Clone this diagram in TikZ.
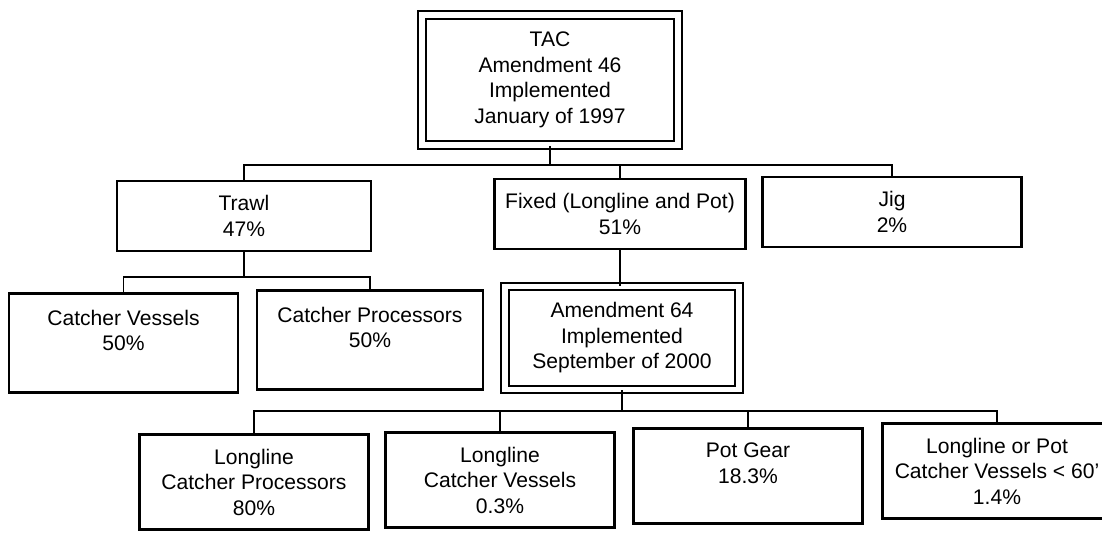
\documentclass[tikz,border=0pt]{standalone}
\usepackage{fontspec}
\setmainfont{Liberation Sans}
\usepackage{tikz}
\usetikzlibrary{positioning}

\tikzset{
  box/.style={draw, line width=1.2pt, align=center, inner sep=0pt,
    font=\fontsize{12}{14.5}\selectfont},
  dbox/.style={box, double, double distance=3.2pt, line width=1pt},
  link/.style={line width=0.9pt},
}

\begin{document}
\begin{tikzpicture}[x=0.02cm, y=-0.02cm]

\useasboundingbox (0,0) rectangle (1102,535);
\clip (0,0) rectangle (1102,535);

% Top of the tree
\node[dbox, minimum width=5.12cm, minimum height=2.6cm] (tac) at (550,80)
  {TAC\\Amendment 46\\Implemented\\January of 1997};

% Gear groups
\node[box, minimum width=5.08cm, minimum height=1.4cm] (trawl) at (244,216) {Trawl\\47\%};
\node[box, minimum width=5.02cm, minimum height=1.4cm] (fixed) at (620,214) {Fixed (Longline and Pot)\\51\%};
\node[box, minimum width=5.18cm, minimum height=1.4cm] (jig) at (892,212) {Jig\\2\%};

% Trawl split and amendment 64
\node[box, minimum width=4.58cm, minimum height=1.98cm] (cv) at (123.5,343) {Catcher Vessels\\50\%\\~};
\node[box, minimum width=4.52cm, minimum height=1.98cm] (cp) at (370,340) {Catcher Processors\\50\%\\~};
\node[dbox, minimum width=4.68cm, minimum height=2.06cm] (amd) at (622,338)
  {Amendment 64\\Implemented\\September of 2000};

% Fixed gear split
\node[box, minimum width=4.58cm, minimum height=1.9cm] (lcp) at (254,482) {Longline\\Catcher Processors\\80\%};
\node[box, minimum width=4.58cm, minimum height=1.9cm] (lcv) at (500,480) {Longline\\Catcher Vessels\\0.3\%};
\node[box, minimum width=4.58cm, minimum height=1.9cm] (pot) at (748,476) {Pot Gear\\18.3\%\\~};
\node[box, minimum width=4.58cm, minimum height=1.9cm] (lpv) at (997,471) {Longline or Pot\\Catcher Vessels < 60'\\1.4\%};

% Connectors
\coordinate (busa) at (0,165);
\coordinate (busb) at (0,277);
\coordinate (busc) at (0,411);

\draw[link] (tac.south) -- (tac.south |- busa);
\draw[link] (trawl.north) |- (busa -| jig.north) -- (jig.north);
\draw[link] (fixed.north) -- (fixed.north |- busa);

\draw[link] (trawl.south) -- (trawl.south |- busb);
\draw[link] (cv.north) |- (busb -| cp.north) -- (cp.north);

\draw[link] (fixed.south) -- (fixed.south |- amd.north);

\draw[link] (amd.south) -- (amd.south |- busc);
\draw[link] (lcp.north) |- (busc -| lpv.north) -- (lpv.north);
\draw[link] (lcv.north) -- (lcv.north |- busc);
\draw[link] (pot.north) -- (pot.north |- busc);

\end{tikzpicture}
\end{document}
